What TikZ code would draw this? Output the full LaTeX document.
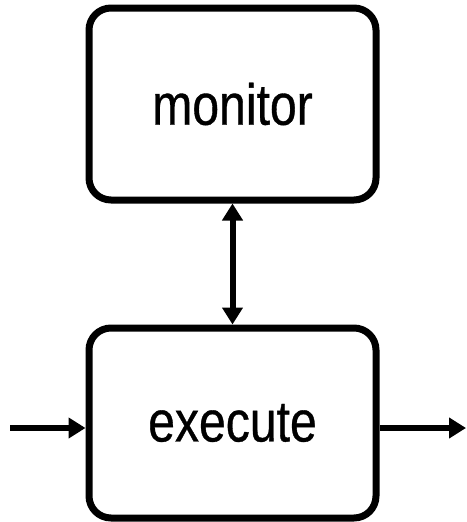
\documentclass[tikz,border=0pt]{standalone}
\usepackage{fontspec}
\setmainfont{Liberation Sans}[FakeStretch=0.83,FakeBold=0.6]
\usetikzlibrary{arrows.meta,positioning}

\tikzset{
  block/.style={draw, line width=7pt, rounded corners=22pt,
    minimum width=287pt, inner sep=0pt, font=\fontsize{58}{70}\selectfont},
  flow/.style={line width=6pt, -{Triangle[width=20pt,length=17pt]}},
  twoway/.style={line width=6pt, {Triangle[width=20pt,length=17pt]}-{Triangle[width=20pt,length=17pt]}}
}

\begin{document}
\begin{tikzpicture}[x=1pt,y=-1pt]
\useasboundingbox (0,0) rectangle (466,522);

% Define the two boxes
\node[block, minimum height=192pt] (monitor) at (232.5,104) {monitor};
\node[block, minimum height=190pt] (execute) at (232.5,423) {execute};

% Define the free ends
\coordinate (in) at (10,428);
\coordinate (out) at (466,428);

% Draw connectors
\draw[twoway] (monitor.south) -- (execute.north);
\draw[flow] (in) -- (execute.west |- in);
\draw[flow] (execute.east |- out) -- (out);
\end{tikzpicture}
\end{document}
